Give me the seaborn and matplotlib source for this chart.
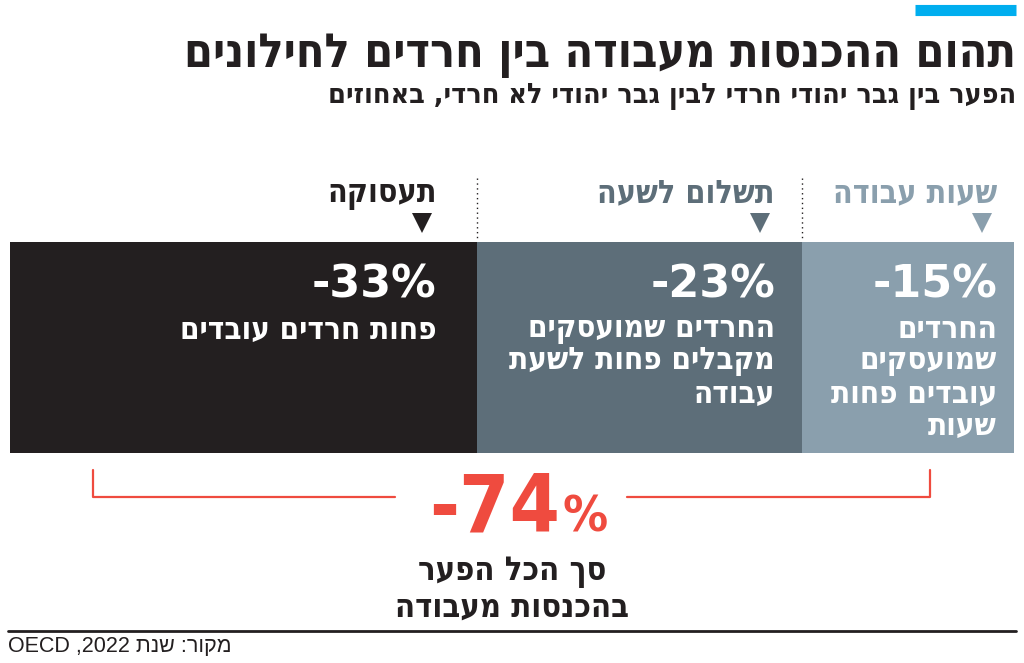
import re
import matplotlib
matplotlib.use("Agg")
import matplotlib.pyplot as plt
import pandas as pd
import seaborn as sns

# ---------------- data ----------------
categories = ["תעסוקה", "תשלום לשעה", "שעות עבודה"]
gaps = [33, 23, 15]
value_labels = ["-33%", "-23%", "-15%"]
descriptions = [
    ["פחות חרדים עובדים"],
    ["החרדים שמועסקים", "מקבלים פחות לשעת", "עבודה"],
    ["החרדים", "שמועסקים", "עובדים פחות", "שעות"],
]
colors = ["#231f20", "#5d6e79", "#8a9fad"]
total_number = "-74"
title = "תהום ההכנסות מעבודה בין חרדים לחילונים"
subtitle = "הפער בין גבר יהודי חרדי לבין גבר יהודי לא חרדי, באחוזים"
total_caption = ["סך הכל הפער", "בהכנסות מעבודה"]
source = "מקור: שנת 2022, OECD"


def rtl(s):
    """Minimal visual reordering for right-to-left text."""
    r = s[::-1]
    return re.sub(r"[A-Za-z0-9%]+", lambda m: m.group(0)[::-1], r)


sns.set_theme(style="white")
plt.rcParams["font.family"] = ["DejaVu Sans"]

W, H = 1024, 663
fig = plt.figure(figsize=(W / 100, H / 100), dpi=100)
fig.patch.set_facecolor("white")

# ---------------- bar (seaborn) ----------------
bar_left, bar_right, bar_top, bar_bottom = 10, 1014, 242, 453
bax = fig.add_axes([bar_left / W, 1 - bar_bottom / H,
                    (bar_right - bar_left) / W, (bar_bottom - bar_top) / H])
cum = pd.Series(gaps).cumsum().tolist()
total = cum[-1]
df = pd.DataFrame({"segment": categories, "end": cum, "row": ["gap"] * 3})
order = categories[::-1]
sns.barplot(data=df, x="end", y="row", hue="segment", hue_order=order,
            palette=dict(zip(categories, colors)), dodge=False, width=1.0,
            saturation=1, linewidth=0, legend=False, orient="h", ax=bax)
bax.set_xlim(0, total)
bax.set_ylim(0.5, -0.5)
bax.axis("off")

# ---------------- overlay in pixel coordinates ----------------
ov = fig.add_axes([0, 0, 1, 1], zorder=5)
ov.set_xlim(0, W)
ov.set_ylim(H, 0)
ov.axis("off")
ov.patch.set_alpha(0)


def px(v):
    return bar_left + v / total * (bar_right - bar_left)


bold = dict(fontweight="bold", fontstretch="condensed")

# top blue accent
ov.plot([915, 1016], [10, 10], color="#00aeef", lw=8, solid_capstyle="butt")

ov.text(1016, 55, rtl(title), ha="right", va="center", fontsize=33.5,
        color="#231f20", **bold)
ov.text(1016, 96, rtl(subtitle), ha="right", va="center", fontsize=20.5,
        color="#231f20", **bold)

pads = [40, 27, 17]
for i, (cat, end, col, vl, desc) in enumerate(zip(categories, cum, colors,
                                                  value_labels, descriptions)):
    right = px(end) - pads[i]
    ov.text(right, 194, rtl(cat), ha="right", va="center", fontsize=23,
            color=col, **bold)
    ov.plot([right - 15], [223], marker="v", markersize=15, color=col,
            markeredgewidth=0)
    ov.text(right, 285, vl, ha="right", va="center", fontsize=32,
            color="white", fontweight="bold")
    for j, line in enumerate(desc):
        ov.text(right, 330 + j * 32, rtl(line), ha="right", va="center",
                fontsize=22.5, color="white", **bold)
    if i < len(cum) - 1:
        ov.plot([px(end), px(end)], [178, 241], color="#231f20", lw=1,
                linestyle=(0, (1, 2.5)))

# red bracket
red = "#ef4b3f"
ov.plot([93, 93, 395], [470, 497, 497], color=red, lw=1.6)
ov.plot([627, 930, 930], [497, 497, 470], color=red, lw=1.6)
ov.text(560, 531, total_number, ha="right", va="baseline", fontsize=58,
        color=red, **bold)
ov.text(563, 531, "%", ha="left", va="baseline", fontsize=36,
        color=red, **bold)

for j, line in enumerate(total_caption):
    ov.text(512, 571 + j * 36, rtl(line), ha="center", va="center",
            fontsize=23.5, color="#231f20", **bold)

ov.plot([8, 1016], [631, 631], color="#231f20", lw=2)
ov.text(8, 646, rtl(source), ha="left", va="center", fontsize=15.5,
        color="#231f20", family=["Liberation Sans", "DejaVu Sans"])

fig.savefig("out.png", dpi=100, facecolor="white")
